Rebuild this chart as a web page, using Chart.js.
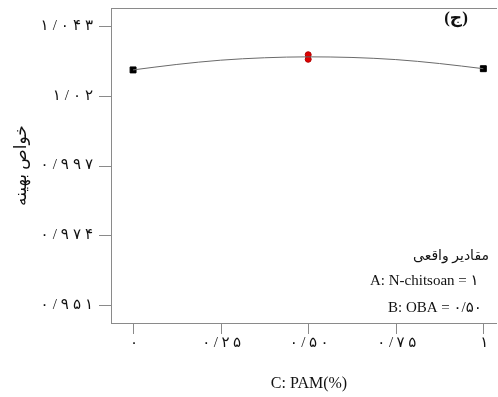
<!DOCTYPE html>
<html>
<head>
<meta charset="utf-8">
<script src="https://cdn.jsdelivr.net/npm/chart.js@4.4.0/dist/chart.umd.min.js"></script>
<style>
    html, body { margin: 0; padding: 0; background: #fff; overflow: hidden; }
    #wrap { width: 498px; height: 397px; }
</style>
</head>
<body>
<div id="wrap"><canvas id="effectChart"></canvas></div>
<script>
// values
var curveX = [0, 0.125, 0.25, 0.375, 0.5, 0.625, 0.75, 0.875, 1];
var curveY = [1.0285, 1.0303, 1.0317, 1.0325, 1.0328, 1.0326, 1.0319, 1.0306, 1.0289];
var designX = [0, 1];
var designY = [1.0285, 1.0289];
var centerX = [0.5, 0.5];
var centerY = [1.0335, 1.0320];

var xTicks = [0, 0.25, 0.5, 0.75, 1];
var xTickLabels = ['۰', '۰/۲۵', '۰/۵۰', '۰/۷۵', '۱'];
var yTicks = [0.951, 0.974, 0.997, 1.02, 1.043];
var yTickLabels = ['۰/۹۵۱', '۰/۹۷۴', '۰/۹۹۷', '۱/۰۲', '۱/۰۴۳'];

var xTitle = 'C: PAM(%)';
var yTitle = 'خواص بهینه';
var panelLabel = '(ج)';
var legendLines = ['مقادیر واقعی', 'A: N-chitsoan = ۱', 'B: OBA = ۰/۵۰'];

function pts(xs, ys) {
    return xs.map(function (x, i) { return { x: x, y: ys[i] }; });
}

var serif = "'Liberation Serif', 'DejaVu Sans', serif";

// draws digits one by one so they get the wide spacing of the original
function spacedText(c, text, x, y, gap, align) {
    var chars = Array.from(text);
    var widths = chars.map(function (ch) { return c.measureText(ch).width; });
    var total = widths.reduce(function (s, w) { return s + w; }, 0) + gap * (chars.length - 1);
    var start = align === 'right' ? x - total : x - total / 2;
    c.save();
    c.textAlign = 'left';
    chars.forEach(function (ch, i) {
        c.fillText(ch, start, y);
        start += widths[i] + gap;
    });
    c.restore();
}

var boxPlugin = {
    id: 'boxPlugin',
    afterDraw: function (chart) {
        var c = chart.ctx, a = chart.chartArea;
        var xs = chart.scales.x, ys = chart.scales.y;
        var w = chart.width - 1;
        c.save();
        c.strokeStyle = '#8a8a8a';
        c.lineWidth = 1;
        c.beginPath();
        c.moveTo(w, a.top + 0.5);
        c.lineTo(a.left + 0.5, a.top + 0.5);
        c.moveTo(a.left + 0.5, a.top);
        c.lineTo(a.left + 0.5, a.bottom + 1);
        c.moveTo(a.left, a.bottom + 0.5);
        c.lineTo(w, a.bottom + 0.5);
        // tick marks
        yTicks.forEach(function (v) {
            var py = Math.round(ys.getPixelForValue(v)) + 0.5;
            c.moveTo(a.left - 12, py);
            c.lineTo(a.left, py);
        });
        xTicks.forEach(function (v) {
            var px = Math.round(xs.getPixelForValue(v)) + 0.5;
            c.moveTo(px, a.bottom);
            c.lineTo(px, a.bottom + 11);
        });
        c.stroke();

        c.fillStyle = '#111';
        c.textBaseline = 'middle';
        c.font = '15px ' + serif;
        yTicks.forEach(function (v, i) {
            spacedText(c, yTickLabels[i], 93, ys.getPixelForValue(v), 4, 'right');
        });
        xTicks.forEach(function (v, i) {
            spacedText(c, xTickLabels[i], xs.getPixelForValue(v) + 1, 343, 3.5, 'center');
        });

        c.textAlign = 'center';
        c.font = '16px ' + serif;
        c.fillText(xTitle, 309, 384);

        c.save();
        c.translate(22, (a.top + a.bottom) / 2);
        c.rotate(-Math.PI / 2);
        c.font = '17px ' + serif;
        c.fillText(yTitle, 0, 0);
        c.restore();

        c.font = 'bold 17px ' + serif;
        c.fillText(panelLabel, 456, 19);

        c.textAlign = 'left';
        c.font = '14px ' + serif;
        c.fillText(legendLines[0], 413, 256);
        c.font = '15px ' + serif;
        c.fillText(legendLines[1], 370, 281);
        c.fillText(legendLines[2], 388, 308);
        c.restore();
    }
};

var ctx = document.getElementById('effectChart').getContext('2d');
var effectChart = new Chart(ctx, {
    type: 'scatter',
    data: {
        datasets: [{
            data: pts(curveX, curveY),
            showLine: true,
            borderColor: '#6a6a6a',
            borderWidth: 1,
            pointRadius: 0,
            cubicInterpolationMode: 'monotone'
        }, {
            data: pts(designX, designY),
            pointStyle: 'rect',
            pointRadius: 4.2,
            backgroundColor: '#000',
            borderColor: '#000',
            borderWidth: 1
        }, {
            data: pts(centerX, centerY),
            pointStyle: 'circle',
            pointRadius: 3,
            backgroundColor: '#e00000',
            borderColor: '#b00000',
            borderWidth: 1
        }]
    },
    options: {
        responsive: true,
        maintainAspectRatio: false,
        animation: false,
        layout: { padding: { top: 8, right: 0, left: 0, bottom: 0 } },
        plugins: {
            legend: { display: false },
            tooltip: { enabled: false }
        },
        scales: {
            x: {
                type: 'linear',
                min: -0.063,
                max: 1.027,
                afterBuildTicks: function (s) { s.ticks = xTicks.map(function (v) { return { value: v }; }); },
                afterFit: function (s) { s.height = 74; s.paddingLeft = 0; s.paddingRight = 0; },
                grid: { display: false },
                border: { display: false },
                ticks: { display: false }
            },
            y: {
                type: 'linear',
                min: 0.9451,
                max: 1.0489,
                afterBuildTicks: function (s) { s.ticks = yTicks.map(function (v) { return { value: v }; }); },
                afterFit: function (s) { s.width = 111; s.paddingTop = 0; s.paddingBottom = 0; },
                grid: { display: false },
                border: { display: false },
                ticks: { display: false }
            }
        }
    },
    plugins: [boxPlugin]
});
</script>
</body>
</html>
